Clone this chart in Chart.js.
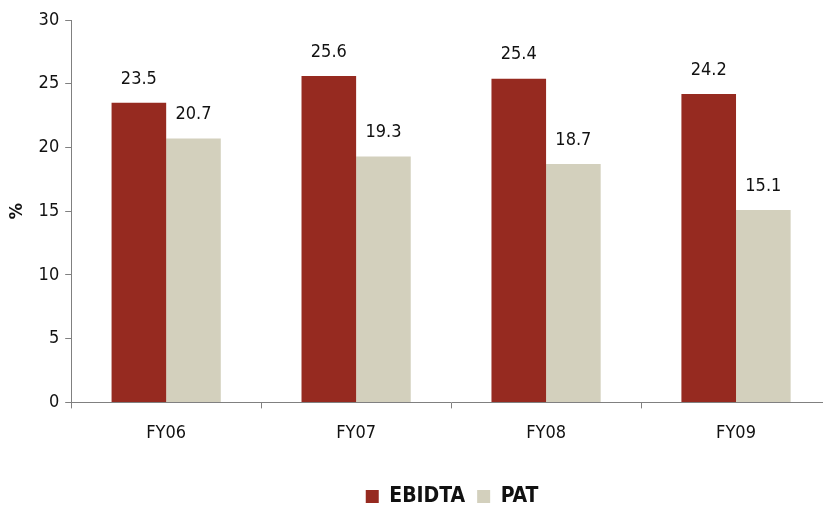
<!DOCTYPE html>
<html>
<head>
<meta charset="utf-8">
<script src="https://cdn.jsdelivr.net/npm/chart.js@4.4.1/dist/chart.umd.min.js"></script>
<style>
  html, body { margin: 0; padding: 0; background: #fff; overflow: hidden; }
  #wrap { width: 902px; height: 509px; }
</style>
</head>
<body>
<div id="wrap"><canvas id="grafico"></canvas></div>
<script>
const categorias = ['FY06', 'FY07', 'FY08', 'FY09'];
const ebidta = [23.5, 25.6, 25.4, 24.2];
const pat = [20.7, 19.3, 18.7, 15.1];
const yTicks = [0, 5, 10, 15, 20, 25, 30];

const fonte = "'DejaVu Sans Condensed', 'Roboto', sans-serif";

// rótulos de valor acima das barras
const rotulos = {
    id: 'rotulos',
    afterLayout(chart) {
        // centraliza a legenda sob a área do gráfico e desce um pouco
        const lg = chart.legend;
        if (lg) {
            lg.left = chart.chartArea.left + 1;
            lg.right = chart.chartArea.right + 1;
            lg.top += 10;
            lg.bottom += 10;
        }
    },
    afterDatasetsDraw(chart) {
        const ctx = chart.ctx;
        ctx.save();
        ctx.font = '18px ' + fonte;
        ctx.fillStyle = '#111';
        ctx.textAlign = 'center';
        ctx.textBaseline = 'middle';
        chart.data.datasets.forEach((ds, i) => {
            chart.getDatasetMeta(i).data.forEach((bar, j) => {
                ctx.fillText(ds.data[j].toFixed(1), bar.x, bar.y - 24);
            });
        });
        ctx.restore();
    }
};

new Chart(document.getElementById('grafico'), {
    type: 'bar',
    data: {
        labels: categorias,
        datasets: [
            { label: 'EBIDTA', data: ebidta, backgroundColor: '#962A20', barPercentage: 1, categoryPercentage: 0.575 },
            { label: 'PAT', data: pat, backgroundColor: '#D3D0BD', barPercentage: 1, categoryPercentage: 0.575 }
        ]
    },
    options: {
        responsive: true,
        maintainAspectRatio: false,
        animation: false,
        layout: { padding: { top: 20, right: 71, left: 3, bottom: 2 } },
        plugins: {
            tooltip: { enabled: false },
            legend: {
                position: 'bottom',
                labels: {
                    boxWidth: 13, boxHeight: 13, padding: 12,
                    color: '#111',
                    font: { family: fonte, size: 21, weight: 'bold' }
                }
            }
        },
        scales: {
            x: {
                grid: { offset: true, drawOnChartArea: false, tickLength: 6, color: '#808080' },
                border: { color: '#808080' },
                ticks: { color: '#111', font: { family: fonte, size: 18 }, padding: 14 },
                afterFit: axis => { axis.height += 6; }
            },
            y: {
                min: 0, max: 30,
                afterBuildTicks: axis => { axis.ticks = yTicks.map(v => ({ value: v })); },
                grid: { drawOnChartArea: false, tickLength: 6, color: '#808080' },
                border: { color: '#808080' },
                ticks: { color: '#111', font: { family: fonte, size: 18 }, padding: 6 },
                title: { display: true, text: '%', color: '#111', font: { family: fonte, size: 18, weight: 'bold' }, padding: 4 }
            }
        }
    },
    plugins: [rotulos]
});
</script>
</body>
</html>
